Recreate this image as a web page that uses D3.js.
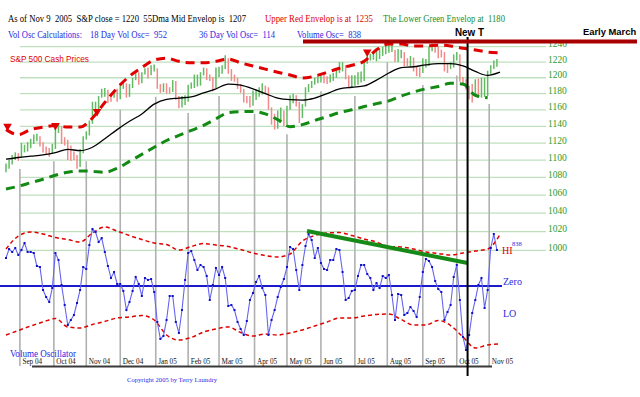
<!DOCTYPE html>
<html>
<head>
<meta charset="utf-8">
<script src="https://cdn.jsdelivr.net/npm/d3@7"></script>
<style>
  body { margin: 0; background: #fff; }
  svg { display: block; }
  text { white-space: pre; }
</style>
</head>
<body>
<svg id="chart" width="640" height="397"></svg>
<script>
// time frame: trading (week) days from Aug 19 2004 to Nov 9 2005
const startDate = new Date(2004, 7, 19);
const endDate = new Date(2005, 10, 10);
const barStep = 2;   // weekdays per price bar / oscillator point
const lineStep = 8;  // weekdays per envelope point

// S&P 500 price bars (low / high), one every 2 trading days
const barLo = [1086,1090,1095,1100,1099,1103,1109,1110,1114,1119,
  1122,1116,1109,1106,1104,1108,1113,1132,1119,1117,
  1100,1099,1100,1090,1092,1108,1124,1129,1143,1160,
  1161,1175,1176,1168,1170,1175,1170,1173,1186,1175,
  1176,1187,1197,1191,1193,1204,1199,1203,1208,1186,
  1181,1182,1180,1180,1182,1172,1162,1163,1166,1170,
  1186,1187,1189,1190,1203,1197,1196,1183,1187,1201,
  1205,1211,1205,1196,1195,1186,1181,1169,1168,1163,
  1165,1172,1176,1179,1180,1160,1142,1136,1137,1146,
  1140,1142,1160,1168,1164,1144,1150,1164,1182,1187,
  1191,1193,1194,1193,1192,1194,1196,1200,1206,1208,
  1198,1187,1187,1190,1191,1194,1196,1218,1222,1223,
  1221,1224,1228,1230,1232,1233,1220,1220,1225,1215,
  1215,1214,1208,1202,1201,1206,1213,1215,1234,1232,
  1225,1226,1208,1206,1211,1213,1222,1195,1190,1185,
  1173,1169,1177,1175,1175,1176,1177,1205,1211,1214];
const barHi = [1096,1100,1106,1109,1108,1120,1118,1121,1125,1130,
  1131,1128,1121,1116,1114,1119,1138,1144,1140,1127,
  1124,1117,1110,1106,1113,1128,1134,1147,1170,1170,
  1177,1186,1187,1185,1180,1184,1186,1193,1194,1193,
  1192,1200,1207,1207,1207,1212,1213,1216,1217,1212,
  1192,1193,1193,1188,1197,1196,1177,1177,1178,1191,
  1194,1204,1204,1207,1213,1212,1204,1201,1213,1214,
  1216,1229,1225,1211,1204,1200,1192,1186,1177,1177,
  1184,1184,1188,1193,1190,1188,1163,1155,1159,1163,
  1159,1165,1178,1180,1178,1170,1167,1188,1192,1196,
  1200,1202,1206,1206,1202,1204,1206,1210,1220,1220,
  1216,1203,1203,1203,1207,1208,1222,1229,1231,1233,
  1236,1238,1240,1241,1245,1246,1236,1237,1236,1233,
  1225,1228,1226,1214,1213,1225,1224,1240,1244,1244,
  1240,1236,1233,1218,1220,1230,1233,1230,1201,1198,
  1190,1192,1198,1199,1200,1200,1209,1216,1222,1224];

// 55 day moving average and its envelopes, one every 8 trading days
const maMid = [1101,1103,1104.5,1106,1108.6,1112.6,1111,1115,1125,1136,
  1146,1155,1167,1173,1174.5,1176,1181,1186,1192,1190.6,
  1186,1180,1174.5,1172.5,1172,1174.5,1180,1186,1188,1189.6,
  1197,1206,1213,1214,1216.5,1218,1218,1215,1208,1203,1207];
const envUpper = [1136,1130,1136,1139,1141,1139,1139,1150,1169,1187,
  1202,1213,1222.6,1225,1221,1219,1219,1221,1224,1219,
  1215,1211,1207,1203.5,1199.6,1202,1207,1212,1216,1221,
  1236,1243.5,1243.5,1241,1241,1242,1241,1238,1235.6,1233,1232];
const envLower = [1067,1070,1074,1078,1082.6,1086,1087.5,1087,1086,1090.5,
  1098.5,1106.7,1115,1123,1129,1135,1141,1149,1156.6,1157.8,
  1157.8,1155,1148,1139.5,1142,1147,1151.6,1156.6,1160,1164,
  1167.6,1171,1177,1182,1186,1189,1193,1192,1178,1175];

// volume oscillator, one every 2 trading days
const volOsc = [652,861,792,885,722,838,1001,792,792,768,
  466,442,-93,-256,-372,-47,768,605,23,-442,
  -908,-792,-675,-396,-93,442,396,954,1327,1257,
  1024,1117,792,466,186,326,47,47,-116,-559,
  -372,-116,210,47,-233,186,140,163,-140,-838,
  -1234,-1164,-792,-233,-233,-838,-1094,-559,140,768,
  815,605,372,489,442,233,-326,23,419,256,
  442,186,-466,-442,-559,-838,-1001,-1141,-815,-326,
  -163,93,233,-47,-210,-1141,-792,-559,-256,-23,
  163,442,908,861,372,-93,489,931,1211,1071,
  652,885,535,396,372,605,605,861,838,326,
  -326,-279,-116,-93,233,489,489,279,186,-93,
  70,-47,233,186,256,-210,-792,-186,-210,-675,
  -629,-489,-582,-722,-256,326,629,582,442,116,
  -70,-140,-792,-605,-442,210,489,-326,-1187,-1490,
  -1141,-629,-326,23,186,-512,-93,885,1211,838];
const oscUpper = [861,1164,1257,1211,1129,1083,1024,1234,1374,1280,
  1176,1083,1001,966,838,920,989,954,920,850,
  768,710,675,745,1048,1176,1234,1245,1176,1094,
  1024,920,908,861,792,757,722,768,815,861,1200];
const oscLower = [-1141,-1036,-931,-838,-757,-954,-978,-896,-826,-745,
  -722,-687,-792,-1141,-1257,-1199,-1071,-1001,-954,-1083,
  -1164,-1117,-1141,-1094,-1024,-931,-838,-745,-745,-698,
  -663,-652,-780,-908,-908,-803,-920,-1187,-1443,-1373,-1350];

const priceTicks = [1000,1020,1040,1060,1080,1100,1120,1140,1160,1180,1200,1220,1240];
const sellDates = [new Date(2004,7,20), new Date(2004,9,4), new Date(2004,10,10), new Date(2005,6,13)];
const sellPrices = [1140, 1141, 1158, 1233];
const trendDates = [new Date(2005,4,19), new Date(2005,9,12)];
const trendVals = [1280, 535];
const newTDate = new Date(2005, 9, 12);
const lastOsc = 838;

const svg = d3.select('#chart');

//trading day index
const weekdays = d3.timeDay.range(startDate, endDate).filter(d => d.getDay() % 6 !== 0);
const idxOf = d => d3.bisectLeft(weekdays, d);

const x = d3.scaleLinear().domain([0, 320]).range([6, 500]);
const y = d3.scaleLog().domain([1000, 1240]).range([250.3, 46.7]);
const yo = d3.scaleLinear().domain([-1600, 1600]).range([354.7, 217.3]);

// horizontal price grid
svg.append('g').selectAll('line').data(priceTicks).join('line')
  .attr('x1', 20).attr('x2', 546)
  .attr('y1', d => y(d)).attr('y2', d => y(d))
  .attr('stroke', '#bfe0bf').attr('stroke-width', 1.3);

svg.append('g').selectAll('text').data(priceTicks).join('text')
  .attr('x', 548).attr('y', d => y(d) + 0.5)
  .attr('font-family', 'Liberation Serif, serif').attr('font-size', 9.5)
  .attr('fill', '#2e9a2e').text(d => d);

// month drop lines
const months = d3.timeMonth.range(new Date(2004, 8, 1), new Date(2005, 10, 2));
const monthX = m => x(idxOf(m));
svg.append('g').selectAll('line').data(months).join('line')
  .attr('x1', monthX).attr('x2', monthX)
  .attr('y1', m => {
    let k = Math.min(barLo.length - 1, Math.round(idxOf(m) / barStep));
    return y(Math.min(barLo[k], barLo[Math.max(0, k - 1)])) + 8;
  })
  .attr('y2', 366)
  .attr('stroke', '#b0b0b0').attr('stroke-width', 1.6);

// bottom axis
svg.append('line').attr('x1', 32).attr('x2', 492).attr('y1', 366.5).attr('y2', 366.5)
  .attr('stroke', '#3a3a3a').attr('stroke-width', 2);
svg.append('g').selectAll('text').data(months).join('text')
  .attr('x', m => monthX(m) + 2.5).attr('y', 363.5)
  .attr('font-family', 'Liberation Serif, serif').attr('font-size', 7.2)
  .attr('fill', '#111').text(d3.timeFormat('%b %y'));

// price bars
const bars = barLo.map((lo, k) => ({k, lo, hi: barHi[k], mid: (lo + barHi[k]) / 2}));
svg.append('g').selectAll('line').data(bars).join('line')
  .attr('x1', d => x(d.k * barStep)).attr('x2', d => x(d.k * barStep))
  .attr('y1', d => y(d.hi)).attr('y2', d => y(d.lo))
  .attr('stroke', d => (d.k === 0 || d.mid >= bars[d.k - 1].mid) ? '#62bb62' : '#f28a8a')
  .attr('stroke-width', 1.5);

// moving average and envelopes
const envLine = d3.line().x((d, j) => x(j * lineStep)).y(d => y(d)).curve(d3.curveMonotoneX);
svg.append('path').attr('d', envLine(maMid)).attr('fill', 'none')
  .attr('stroke', '#000').attr('stroke-width', 1.3);
svg.append('path').attr('d', envLine(envUpper)).attr('fill', 'none')
  .attr('stroke', '#e00000').attr('stroke-width', 3).attr('stroke-dasharray', '9,6');
svg.append('path').attr('d', envLine(envLower)).attr('fill', 'none')
  .attr('stroke', '#138a13').attr('stroke-width', 3).attr('stroke-dasharray', '9,6');

// sell markers
svg.append('g').selectAll('path').data(sellDates).join('path')
  .attr('d', d3.symbol(d3.symbolTriangle, 32))
  .attr('transform', (d, i) => `translate(${x(idxOf(d))},${y(sellPrices[i])}) rotate(180)`)
  .attr('fill', '#e00000');

// oscillator envelopes
const oscEnv = d3.line().x((d, j) => x(j * lineStep)).y(d => yo(d)).curve(d3.curveMonotoneX);
[oscUpper, oscLower].forEach(s => {
  svg.append('path').attr('d', oscEnv(s)).attr('fill', 'none')
    .attr('stroke', '#e00000').attr('stroke-width', 1.5).attr('stroke-dasharray', '4,3');
});

// zero line
svg.append('line').attr('x1', 0).attr('x2', 502).attr('y1', yo(0)).attr('y2', yo(0))
  .attr('stroke', '#1a1acc').attr('stroke-width', 2);

// volume oscillator
const oscLine = d3.line().x((d, k) => x(k * barStep)).y(d => yo(d));
svg.append('path').attr('d', oscLine(volOsc)).attr('fill', 'none')
  .attr('stroke', '#6464f0').attr('stroke-width', 1.1);
svg.append('g').selectAll('rect').data(volOsc).join('rect')
  .attr('x', (d, k) => x(k * barStep) - 1).attr('y', d => yo(d) - 1)
  .attr('width', 2).attr('height', 2).attr('fill', '#1010c8');

// divergence trend line
svg.append('line')
  .attr('x1', x(idxOf(trendDates[0]))).attr('y1', yo(trendVals[0]))
  .attr('x2', x(idxOf(trendDates[1]))).attr('y2', yo(trendVals[1]))
  .attr('stroke', '#168a16').attr('stroke-width', 4);

// "New T" vertical
const nx = x(idxOf(newTDate));
svg.append('line').attr('x1', nx).attr('x2', nx).attr('y1', 37).attr('y2', 376)
  .attr('stroke', '#000').attr('stroke-width', 2);

// oscillator labels
const lab = (tx, ty, s, col, fs) => svg.append('text').attr('x', tx).attr('y', ty)
  .attr('font-family', 'Liberation Serif, serif').attr('font-size', fs).attr('fill', col).text(s);
lab(503, yo(0) - 1, 'Zero', '#2a2ae0', 10);
lab(502, yo(lastOsc) + 4, 'HI', '#e00000', 10);
lab(512, yo(lastOsc) - 4, String(lastOsc), '#2a2ae0', 6.5);
lab(503, 317, 'LO', '#2a2ae0', 10);
lab(10, 357, 'Volume Oscillator', '#2a2ae0', 10).attr('textLength', 66).attr('lengthAdjust', 'spacingAndGlyphs');

// red bar and notes
svg.append('rect').attr('x', 303).attr('y', 39.5).attr('width', 334).attr('height', 4).attr('fill', '#a80000');
svg.append('text').attr('x', 455).attr('y', 36).attr('font-family', 'Liberation Sans, Arial, sans-serif')
  .attr('font-weight', 'bold').attr('font-size', 11).attr('fill', '#000')
  .attr('textLength', 29).attr('lengthAdjust', 'spacingAndGlyphs').text('New T');
svg.append('text').attr('x', 583).attr('y', 34.5).attr('font-family', 'Liberation Sans, Arial, sans-serif')
  .attr('font-weight', 'bold').attr('font-size', 9.4).attr('fill', '#000')
  .text('Early March');
svg.append('text').attr('x', 10).attr('y', 61.5).attr('font-family', 'Liberation Sans, Arial, sans-serif')
  .attr('font-size', 9).attr('fill', '#e00000').attr('textLength', 79).attr('lengthAdjust', 'spacingAndGlyphs')
  .text('S&P 500 Cash Prices');

// header
const header = [
  {s: 'As of Nov 9  2005  S&P close = 1220  55Dma Mid Envelop is  1207', x: 8, y: 22, w: 238, c: '#000'},
  {s: 'Upper Red Envelop is at  1235', x: 265, y: 22, w: 108, c: '#e00000'},
  {s: 'The Lower Green Envelop at  1180', x: 383, y: 22, w: 122, c: '#1c8c1c'},
  {s: 'Vol Osc Calculations:', x: 8, y: 38, w: 74, c: '#2a2ae0'},
  {s: '18 Day Vol Osc=  952', x: 90, y: 38, w: 77, c: '#2a2ae0'},
  {s: '36 Day Vol Osc=  114', x: 199, y: 38, w: 76, c: '#2a2ae0'},
  {s: 'Volume Osc=  838', x: 297, y: 38, w: 64, c: '#2a2ae0'}
];
svg.append('g').selectAll('text').data(header).join('text')
  .attr('x', d => d.x).attr('y', d => d.y)
  .attr('font-family', 'Liberation Serif, serif').attr('font-size', 9.5)
  .attr('fill', d => d.c).attr('textLength', d => d.w).attr('lengthAdjust', 'spacingAndGlyphs')
  .text(d => d.s);

svg.append('text').attr('x', 127).attr('y', 381.5).attr('font-family', 'Liberation Serif, serif')
  .attr('font-size', 7).attr('fill', '#2a2ae0').attr('textLength', 90).attr('lengthAdjust', 'spacingAndGlyphs')
  .text('Copyright 2005 by Terry Laundry');
</script>
</body>
</html>
